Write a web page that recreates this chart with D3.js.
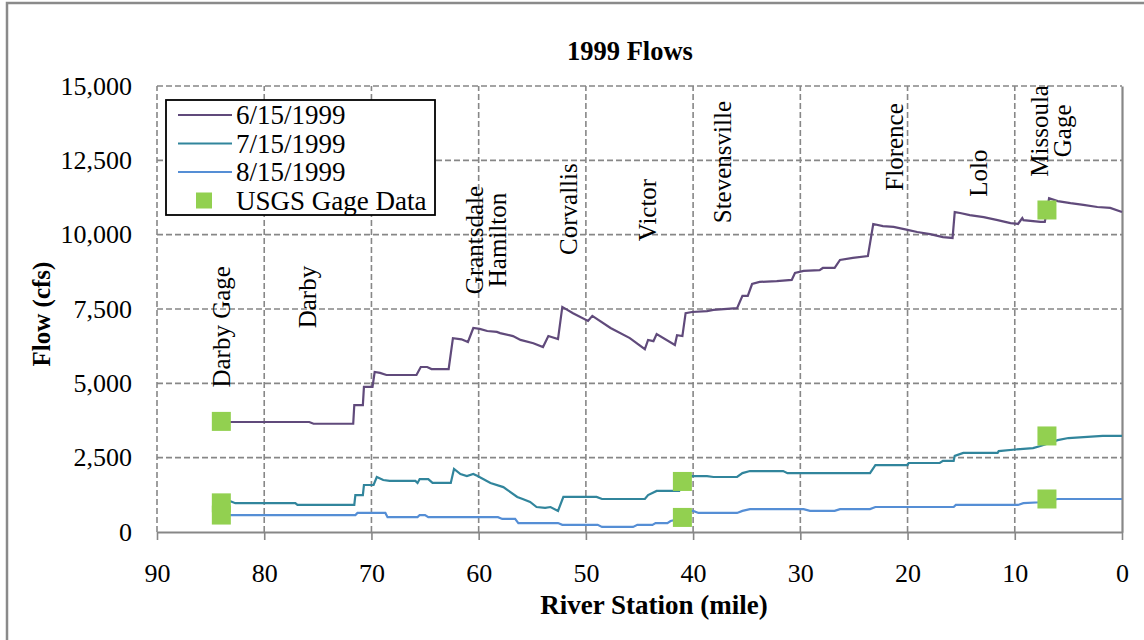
<!DOCTYPE html>
<html>
<head>
<meta charset="utf-8">
<script src="https://cdn.jsdelivr.net/npm/d3@7"></script>
<style>
  body { margin: 0; background: #fff; }
  svg text { font-family: "Liberation Serif", "Times New Roman", serif !important; }
</style>
</head>
<body>
<div class="chart"></div>
<script>
var width = 1144;
var height = 640;
var margin = {top: 86, right: 22, bottom: 108, left: 157};
var serif = '"Liberation Serif", "Times New Roman", serif';

// 6/15/1999 flows, [river mile, cfs]
var june15 = [[83.2,3700],[75.8,3700],[75.4,3640],[71.7,3640],[71.6,4270],[70.8,4270],[70.7,4880],[69.9,4880],
  [69.7,5380],[69.2,5350],[68.6,5280],[65.8,5280],[65.4,5550],[64.8,5550],[64.4,5480],[62.8,5480],[62.4,6520],
  [61.6,6480],[61.0,6390],[60.5,6860],[59.9,6830],[59.2,6760],[58.3,6730],[58.0,6690],[56.8,6590],[56.1,6460],
  [54.9,6350],[54.0,6220],[53.5,6590],[52.6,6490],[52.2,7570],[51.2,7360],[49.8,7100],[49.4,7270],[47.7,6860],
  [45.9,6520],[44.5,6150],[44.2,6460],[43.7,6420],[43.4,6660],[41.7,6290],[41.5,6620],[41.0,6590],[40.7,7360],
  [40.1,7400],[38.7,7430],[38.1,7470],[35.9,7530],[35.4,7940],[34.9,7940],[34.5,8340],[33.8,8410],[32.2,8440],
  [30.8,8480],[30.5,8710],[29.7,8780],[28.2,8810],[27.9,8880],[26.8,8880],[26.3,9150],[25.1,9220],[23.7,9280],
  [23.2,10360],[22.3,10290],[21.3,10260],[20.0,10160],[19.1,10090],[17.9,10020],[16.7,9920],[15.8,9890],
  [15.6,10760],[15.1,10730],[14.2,10660],[12.9,10590],[11.6,10490],[10.4,10390],[9.7,10360],[9.3,10560],
  [9.2,10490],[7.6,10430],[7.2,10430],[6.8,11230],[6.0,11130],[4.8,11060],[3.6,11000],[2.3,10930],[1.1,10900],[0,10760]];

// 7/15/1999
var july15 = [[83.2,1040],[82.7,970],[77.1,970],[76.9,910],[71.6,910],[71.5,1240],[70.8,1240],[70.7,1580],
  [69.8,1580],[69.5,1850],[68.9,1750],[68.3,1720],[65.9,1720],[65.7,1650],[65.5,1780],[64.7,1780],[64.3,1650],
  [62.6,1650],[62.3,2120],[61.7,1950],[61.1,1880],[60.5,1950],[60.1,1880],[58.9,1650],[57.7,1510],[57.3,1410],
  [56.4,1180],[55.9,1110],[55.2,1010],[54.6,840],[53.8,810],[53.3,840],[52.6,710],[52.1,1180],[49.0,1180],
  [48.5,1110],[44.5,1110],[44.2,1240],[43.4,1380],[41.3,1380],[41.0,1880],[38.7,1880],[38.1,1850],[35.9,1850],
  [35.4,1980],[34.7,2050],[31.6,2050],[31.2,1980],[23.5,1980],[23.0,2250],[20.0,2250],[19.9,2320],[17.0,2320],
  [16.7,2390],[15.7,2390],[15.6,2560],[14.8,2660],[11.6,2660],[11.5,2720],[9.5,2790],[8.3,2820],[7.6,2890],
  [6.0,3090],[5.0,3160],[1.8,3230],[0,3230]];

// 8/15/1999
var aug15 = [[83.2,570],[71.5,570],[71.3,640],[68.7,640],[68.5,500],[65.7,500],[65.5,570],[65.0,570],[64.7,500],
  [58.2,500],[57.8,440],[56.6,440],[56.3,300],[52.6,300],[52.2,240],[48.9,240],[48.5,170],[45.6,170],[45.2,240],
  [43.8,240],[43.5,300],[42.4,300],[42.1,370],[41.2,440],[40.9,710],[40.0,710],[39.5,640],[35.9,640],[35.4,710],
  [34.7,770],[29.7,770],[29.1,710],[26.8,710],[26.3,770],[23.5,770],[23.0,840],[15.7,840],[15.5,910],[9.7,910],
  [9.2,970],[7.6,1000],[6.0,1110],[0,1110]];

// USGS gage measurements
var gageMiles = [84, 84, 84, 41, 41, 7, 7, 7];
var gageFlows = [3720, 980, 570, 1700, 490, 10830, 3230, 1110];

var seriesNames = ['6/15/1999', '7/15/1999', '8/15/1999'];
var seriesColors = ['#604a7b', '#31859c', '#558ed5'];
var gageName = 'USGS Gage Data';
var gageColor = '#92d050';

var xTicks = [90, 80, 70, 60, 50, 40, 30, 20, 10, 0];
var yTicks = [0, 2500, 5000, 7500, 10000, 12500, 15000];

// town labels, [name lines, mile, flow at label centre]
var towns = [
  [['Darby Gage'], 84.0, 6900],
  [['Darby'], 76.0, 7900],
  [['Grantsdale', 'Hamilton'], 59.4, 9820],
  [['Corvallis'], 51.7, 10860],
  [['Victor'], 44.3, 10830],
  [['Stevensville'], 37.3, 12440],
  [['Florence'], 21.3, 12950],
  [['Lolo'], 13.4, 12070],
  [['Missoula', 'Gage'], 6.7, 13490]
];

var svg = d3.select('div.chart').append('svg')
  .attr('width', width)
  .attr('height', height)
  .attr('font-family', serif)

svg.append('rect')
  .attr('x', 7).attr('y', 3)
  .attr('width', 1200).attr('height', 700)
  .attr('fill', 'none')
  .attr('stroke', '#8a8a8a')
  .attr('stroke-width', 2.5)

var x_scale = d3.scaleLinear()
  .domain([90, 0])
  .range([margin.left, width - margin.right])
var y_scale = d3.scaleLinear()
  .domain([0, 15000])
  .range([height - margin.bottom, margin.top])

//grid
svg.append('g')
  .attr('class', 'grid-x')
  .selectAll('line')
  .data(xTicks.filter(function(d){return d != 0}))
  .enter()
  .append('line')
  .attr('x1', function(d){return x_scale(d)})
  .attr('x2', function(d){return x_scale(d)})
  .attr('y1', y_scale(0))
  .attr('y2', y_scale(15000))
  .attr('stroke', '#878787')
  .attr('stroke-width', 1.6)
  .attr('stroke-dasharray', '6,3')
svg.append('g')
  .attr('class', 'grid-y')
  .selectAll('line')
  .data(yTicks.filter(function(d){return d != 0}))
  .enter()
  .append('line')
  .attr('x1', x_scale(90))
  .attr('x2', x_scale(0))
  .attr('y1', function(d){return y_scale(d)})
  .attr('y2', function(d){return y_scale(d)})
  .attr('stroke', '#878787')
  .attr('stroke-width', 1.6)
  .attr('stroke-dasharray', '6,3')

//axes
var x_axis = d3.axisBottom(x_scale)
  .tickValues(xTicks)
  .tickFormat(d3.format('d'))
  .tickSize(8)
  .tickSizeOuter(0)
  .tickPadding(24)
var gx = svg.append('g')
  .attr('class', 'x-axis')
  .attr('transform', 'translate(0,' + y_scale(0) + ')')
  .call(x_axis)
  .attr('font-family', serif)
gx.select('.domain').attr('stroke', '#878787').attr('stroke-width', 2.2)
gx.selectAll('.tick line').attr('stroke', '#878787').attr('stroke-width', 1.6)
gx.selectAll('text').style('font-size', '26px').style('font-family', serif).attr('fill', '#000')

var y_axis = d3.axisLeft(y_scale)
  .tickValues(yTicks)
  .tickFormat(d3.format(','))
  .tickSize(0)
  .tickPadding(25)
var gy = svg.append('g')
  .attr('class', 'y-axis')
  .attr('transform', 'translate(' + x_scale(90) + ',0)')
  .call(y_axis)
  .attr('font-family', serif)
gy.select('.domain').remove()
gy.selectAll('text').style('font-size', '26px').style('font-family', serif).attr('fill', '#000')

// vertical axis line sits on the right because the x axis is reversed
var gr = svg.append('g')
  .attr('transform', 'translate(' + x_scale(0) + ',0)')
  .call(d3.axisRight(y_scale).tickValues([]).tickSizeOuter(0))
gr.select('.domain').attr('stroke', '#878787').attr('stroke-width', 2.2)

//lines
var line = d3.line()
  .x(function(d){return x_scale(d[0])})
  .y(function(d){return y_scale(d[1])})
svg.selectAll('path.flow')
  .data([june15, july15, aug15])
  .enter()
  .append('path')
  .attr('class', 'flow')
  .attr('d', line)
  .attr('fill', 'none')
  .attr('stroke', function(d, i){return seriesColors[i]})
  .attr('stroke-width', 2.2)

//gage squares
var sq = 19
svg.selectAll('rect.gage')
  .data(gageMiles)
  .enter()
  .append('rect')
  .attr('class', 'gage')
  .attr('x', function(d){return x_scale(d) - sq / 2})
  .attr('y', function(d, i){return y_scale(gageFlows[i]) - sq / 2})
  .attr('width', sq)
  .attr('height', sq)
  .attr('fill', gageColor)

//town labels
var tl = svg.append('g').attr('class', 'towns')
  .selectAll('text')
  .data(towns)
  .enter()
  .append('text')
  .attr('transform', function(d){return 'translate(' + x_scale(d[1]) + ',' + y_scale(d[2]) + ') rotate(-90)'})
  .attr('text-anchor', 'middle')
  .attr('dominant-baseline', 'central')
  .style('font-family', serif)
  .style('font-size', '25px')
tl.selectAll('tspan')
  .data(function(d){return d[0]})
  .enter()
  .append('tspan')
  .attr('x', 0)
  .attr('y', function(d, i, nodes){return (i - (nodes.length - 1) / 2) * 23})
  .text(function(d){return d})

//titles
svg.append('text')
  .attr('x', 630)
  .attr('y', 60)
  .attr('text-anchor', 'middle')
  .style('font-family', serif)
  .style('font-size', '26.5px')
  .style('font-weight', 'bold')
  .text('1999 Flows')
svg.append('text')
  .attr('x', 654)
  .attr('y', 614)
  .attr('text-anchor', 'middle')
  .style('font-family', serif)
  .style('font-size', '27px')
  .style('font-weight', 'bold')
  .text('River Station (mile)')
svg.append('text')
  .attr('transform', 'translate(50,314) rotate(-90)')
  .attr('text-anchor', 'middle')
  .style('font-family', serif)
  .style('font-size', '25px')
  .style('font-weight', 'bold')
  .text('Flow (cfs)')

//legend
var legend = svg.append('g').attr('class', 'legend').attr('transform', 'translate(166,100)')
legend.append('rect')
  .attr('width', 269)
  .attr('height', 115)
  .attr('fill', '#fff')
  .attr('stroke', '#000')
  .attr('stroke-width', 1.8)
var items = legend.selectAll('g.item')
  .data(seriesNames.concat([gageName]))
  .enter()
  .append('g')
  .attr('class', 'item')
  .attr('transform', function(d, i){return 'translate(0,' + (15 + i * 28.5) + ')'})
items.filter(function(d, i){return i < 3})
  .append('line')
  .attr('x1', 12).attr('x2', 66)
  .attr('stroke', function(d, i){return seriesColors[i]})
  .attr('stroke-width', 2.2)
items.filter(function(d, i){return i == 3})
  .append('rect')
  .attr('x', 30).attr('y', -8)
  .attr('width', 16).attr('height', 16)
  .attr('fill', gageColor)
items.append('text')
  .attr('x', 70)
  .attr('dy', '0.35em')
  .style('font-family', serif)
  .style('font-size', '27px')
  .text(function(d){return d})
</script>
</body>
</html>
